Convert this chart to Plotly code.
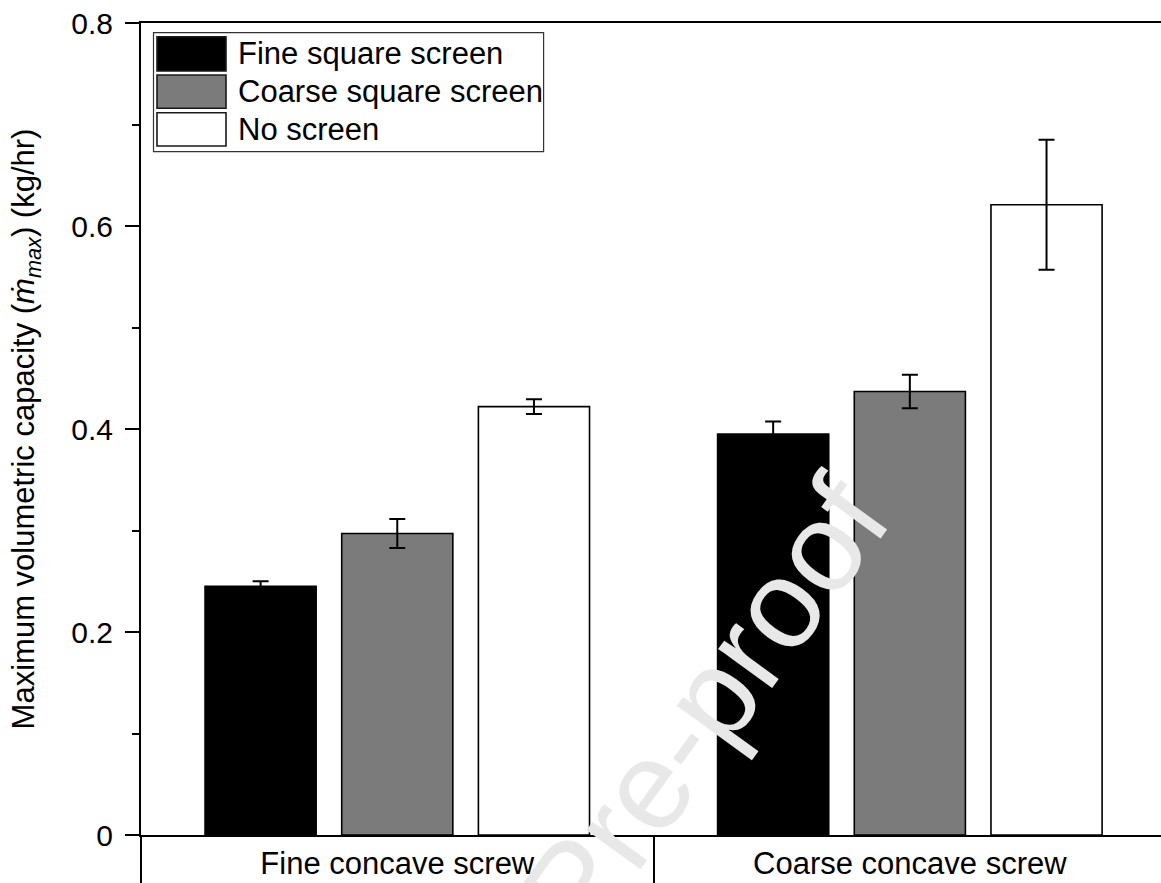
import plotly.graph_objects as go

# ---- data ----
categories = ["Fine concave screw", "Coarse concave screw"]
series_names = ["Fine square screen", "Coarse square screen", "No screen"]
fine_square = [0.245, 0.395]
coarse_square = [0.297, 0.437]
no_screen = [0.422, 0.621]
fine_square_err = [0.005, 0.0125]
coarse_square_err = [0.0143, 0.0165]
no_screen_err = [0.0073, 0.064]
y_ticks = [0, 0.2, 0.4, 0.6, 0.8]
y_ticktext = ["0", "0.2", "0.4", "0.6", "0.8"]

FONT = "Liberation Sans, Arial, sans-serif"
FS = 31
FS_TICK = 30
W, H = 1161, 883
ML, MR, MT, MB = 141, 0, 23, 48
PW, PH = W - ML - MR, H - MT - MB


def px(xp):
    return (xp - ML) / PW


def py(yp):
    return (H - MB - yp) / PH


colors = ["#000000", "#7b7b7b", "#ffffff"]
values = [fine_square, coarse_square, no_screen]
errors = [fine_square_err, coarse_square_err, no_screen_err]

fig = go.Figure()
for name, vals, errs, col in zip(series_names, values, errors, colors):
    fig.add_trace(go.Bar(
        name=name, x=categories, y=vals,
        marker=dict(color=col, line=dict(color="#000000", width=1.6)),
        error_y=dict(type="data", array=errs, visible=True,
                     color="#000000", thickness=2, width=8),
        showlegend=False,
    ))

# invisible helper trace on an overlay axis that carries the category boundary ticks
fig.add_trace(go.Scatter(x=categories, y=[0, 0], xaxis="x2", mode="markers",
                         marker=dict(opacity=0), showlegend=False,
                         hoverinfo="skip"))

fig.update_layout(
    width=W, height=H,
    margin=dict(l=ML, r=MR, t=MT, b=MB, pad=0, autoexpand=False),
    paper_bgcolor="white", plot_bgcolor="white",
    font=dict(family=FONT, size=FS, color="black"),
    barmode="group", bargap=0.2, bargroupgap=0.187,
    xaxis=dict(
        type="category", categoryorder="array", categoryarray=categories,
        range=[-0.5, 1.49], showline=True, linecolor="black", linewidth=2,
        mirror=True, ticks="", showgrid=False, zeroline=False, automargin=False,
        tickfont=dict(family=FONT, size=FS, color="black"),
        ticklabelstandoff=0,
    ),
    xaxis2=dict(
        type="category", categoryorder="array", categoryarray=categories,
        overlaying="x", side="bottom", range=[-0.5, 1.49], automargin=False,
        ticks="outside", tickson="boundaries", ticklen=MB, tickwidth=2,
        tickcolor="black", showticklabels=False, showline=False,
        showgrid=False, zeroline=False,
    ),
    yaxis=dict(
        range=[0, 0.8], tickmode="array", tickvals=y_ticks, ticktext=y_ticktext,
        ticks="outside", ticklen=14, tickwidth=2, tickcolor="black",
        minor=dict(dtick=0.1, tick0=0, ticks="outside", ticklen=7,
                   tickwidth=2, tickcolor="black"),
        showline=True, linecolor="black", linewidth=2, mirror=False,
        showgrid=False, zeroline=False, automargin=False,
        tickfont=dict(family=FONT, size=FS_TICK, color="black"),
        ticklabelstandoff=6,
        title=dict(text="Maximum volumetric capacity (<i>ṁ</i><sub><i>max</i></sub>) (kg/hr)",
                   font=dict(family=FONT, size=FS, color="black"), standoff=27),
    ),
)

# ---- legend drawn as a box with large swatches ----
shapes = [dict(type="rect", xref="paper", yref="paper",
               x0=px(153.5), x1=px(543.6), y0=py(151.7), y1=py(32.7),
               line=dict(color="#333333", width=1.2), fillcolor="white", layer="above")]
rows = [(36.7, 71.0), (75.0, 108.3), (112.7, 146.0)]
annotations = []
for (top, bot), name, col in zip(rows, series_names, colors):
    shapes.append(dict(type="rect", xref="paper", yref="paper",
                       x0=px(157), x1=px(226), y0=py(bot), y1=py(top),
                       line=dict(color="#1a1a1a", width=1.6), fillcolor=col,
                       layer="above"))
    annotations.append(dict(xref="paper", yref="paper", x=px(235.7),
                            y=py((top + bot) / 2), xanchor="left", yanchor="middle",
                            text=name, showarrow=False,
                            font=dict(family=FONT, size=FS, color="black")))

# ---- watermark ----
annotations.append(dict(xref="paper", yref="paper", x=px(573), y=py(887),
                        xanchor="center", yanchor="middle",
                        text="Journal Pre-proof", showarrow=False, textangle=-54,
                        font=dict(family=FONT, size=126, color="#e8e8e8")))

fig.update_layout(shapes=shapes, annotations=annotations)

fig.write_html("out.html",
               config={"displayModeBar": False},
               post_script="document.body.style.margin='0';"
                           "document.body.style.overflow='hidden';")
